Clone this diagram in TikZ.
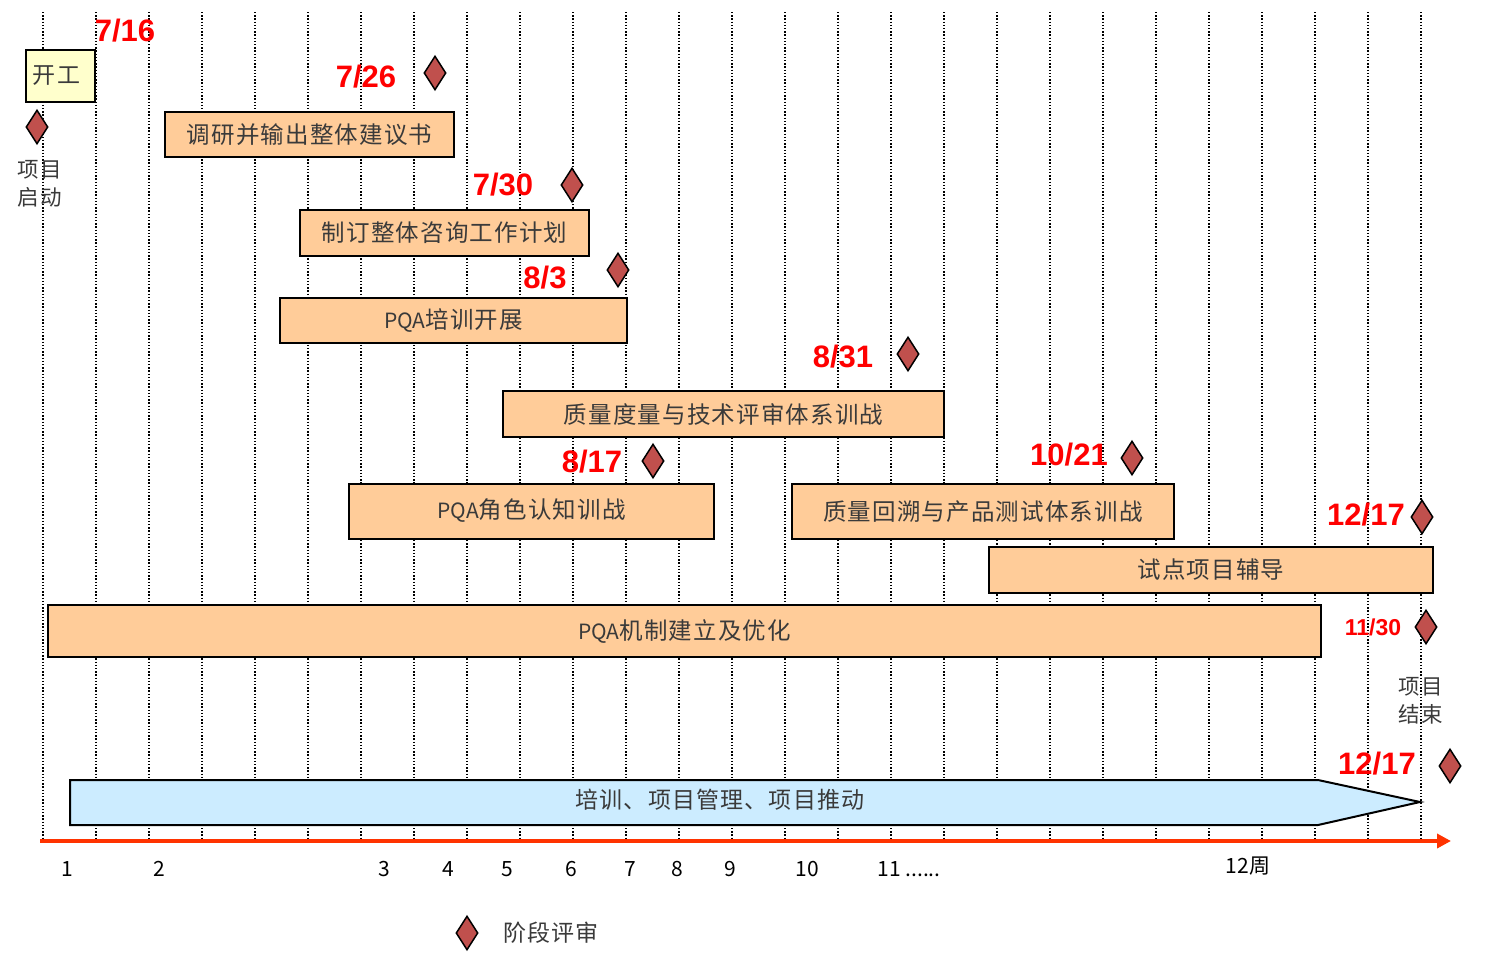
\documentclass[tikz,border=0pt]{standalone}
\usepackage{fontspec}
\usetikzlibrary{shapes.geometric,arrows.meta}
\newfontfamily\cjk[LetterSpace=5]{Noto Sans CJK SC}
\newfontfamily\cjkn{Noto Sans CJK SC}
\newfontfamily\arialf{Liberation Sans}
\definecolor{barfill}{HTML}{FFCC99}
\definecolor{yellowfill}{HTML}{FFFFCC}
\definecolor{bluefill}{HTML}{CCECFF}
\definecolor{diafill}{HTML}{C0504D}
\definecolor{axisred}{HTML}{FF3300}
\definecolor{txtgray}{HTML}{3A3A3A}
\newcommand{\pqa}{{\cjkn\fontsize{21}{24}\selectfont PQA}}
\tikzset{
  bar/.style={draw=black, line width=2.4pt, fill=barfill, inner sep=0pt, text=txtgray,
    font=\cjk\fontsize{23.5}{26}\selectfont},
  startbox/.style={draw=black, line width=2pt, fill=yellowfill, inner sep=0pt, text=txtgray,
    font=\cjk\fontsize{23}{26}\selectfont},
  datelbl/.style={text=red, inner sep=0pt, font=\arialf\bfseries\fontsize{31}{31}\selectfont},
  smalldate/.style={text=red, inner sep=0pt, font=\arialf\bfseries\fontsize{23}{23}\selectfont},
  review/.style={diamond, draw=black, line width=1.5pt, fill=diafill, minimum width=22pt,
    minimum height=34pt, inner sep=0pt},
  note/.style={text=txtgray, inner sep=0pt, align=center, font=\cjk\fontsize{21.5}{28}\selectfont},
  weeknum/.style={text=black, inner sep=0pt, font=\cjkn\fontsize{21}{21}\selectfont},
  gridline/.style={line width=1.3pt, dash pattern=on 1.4pt off 1.8pt, black},
}
\begin{document}
\begin{tikzpicture}[x=1pt,y=-1pt]
\useasboundingbox (0,0) rectangle (1485,961);
% grid
\foreach \i in {0,...,26}{
  \draw[gridline] ({43+53*\i},12) -- ({43+53*\i},840);
}
% start box
\node[startbox, minimum width=69pt, minimum height=52pt] (kg) at (60.5,76) {\hspace*{-8pt}开工};
\node[review] (d0) at (37,127) {};
\node[note] (start) at (40,184) {项目\\启动};
\node[datelbl] (t716) at (125,31) {7/16};
% bars
\node[bar, minimum width=289pt, minimum height=45pt] (b1) at (309.5,134.5) {调研并输出整体建议书};
\node[bar, minimum width=289pt, minimum height=46pt] (b2) at (444.5,233) {制订整体咨询工作计划};
\node[bar, minimum width=347pt, minimum height=45pt] (b3) at (453.5,320.5) {\pqa 培训开展};
\node[bar, minimum width=441pt, minimum height=46pt] (b4) at (723.5,414) {质量度量与技术评审体系训战};
\node[bar, minimum width=365pt, minimum height=55pt] (b5) at (531.5,511.5) {\raisebox{6pt}{\pqa 角色认知训战}};
\node[bar, minimum width=382pt, minimum height=55pt] (b6) at (983,511.5) {质量回溯与产品测试体系训战};
\node[bar, minimum width=444pt, minimum height=46pt] (b7) at (1211,570) {试点项目辅导};
\node[bar, minimum width=1273pt, minimum height=52pt] (b8) at (684.5,631) {\pqa 机制建立及优化};
% dates and reviews
\node[datelbl] (t726) at (366,77) {7/26};
\node[review] (d1) at (435,73) {};
\node[datelbl] (t730) at (503,185) {7/30};
\node[review] (d2) at (572,185) {};
\node[datelbl] (t83) at (545,278) {8/3};
\node[review] (d3) at (618,270) {};
\node[datelbl] (t831) at (843,357) {8/31};
\node[review] (d4) at (908,354) {};
\node[datelbl] (t817) at (592,462) {8/17};
\node[review] (d5) at (653,461) {};
\node[datelbl] (t1021) at (1069,455) {10/21};
\node[review] (d6) at (1132,458) {};
\node[datelbl] (t1217a) at (1366,515) {12/17};
\node[review] (d7) at (1422,517) {};
\node[smalldate] (t1130) at (1373,627) {11/30};
\node[review] (d8) at (1426,627) {};
\node[note] (end) at (1421,701) {项目\\结束};
\node[datelbl] (t1217b) at (1377,764) {12/17};
\node[review] (d9) at (1450,766) {};
% arrow band
\draw[fill=bluefill, line width=2pt] (70,780) -- (1318,780) -- (1420,802) -- (1318,825) -- (70,825) -- cycle;
\node[text=txtgray, inner sep=0pt, font=\cjk\fontsize{23}{26}\selectfont] (band) at (720,800) {培训、项目管理、项目推动};
% axis
\coordinate (axL) at (40,841);
\coordinate (axR) at (1451,841);
\draw[axisred, line width=4pt, -{Triangle[length=14pt,width=14pt]}] (axL) -- (axR);
\node[weeknum] (w1) at (67,869) {1};
\node[weeknum] (w2) at (159,869) {2};
\node[weeknum] (w3) at (384,869) {3};
\node[weeknum] (w4) at (448,869) {4};
\node[weeknum] (w5) at (507,869) {5};
\node[weeknum] (w6) at (571,869) {6};
\node[weeknum] (w7) at (630,869) {7};
\node[weeknum] (w8) at (677,869) {8};
\node[weeknum] (w9) at (730,869) {9};
\node[weeknum] (w10) at (807,869) {10};
\node[weeknum] (w11) at (909,869) {11 ......};
\node[weeknum] (w12) at (1248,866) {12周};
% legend
\node[review] (leg) at (467,933) {};
\node[text=txtgray, inner sep=0pt, font=\cjk\fontsize{23}{26}\selectfont] (legt) at (551,933) {阶段评审};
\end{tikzpicture}
\end{document}
